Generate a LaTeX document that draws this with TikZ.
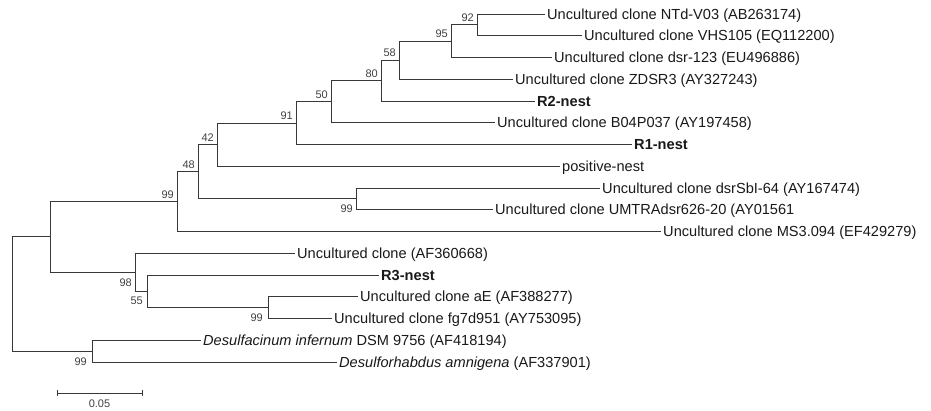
\documentclass[tikz,border=0pt]{standalone}
\usepackage{fontspec}
\setmainfont{Liberation Sans}
\begin{document}
\begin{tikzpicture}[x=1pt,y=-1pt,
  br/.style={draw=black!78, line width=0.95pt},
  leaf/.style={anchor=base west, inner xsep=2pt, inner ysep=0pt, text=black!90, font=\fontsize{14.6}{17}\selectfont},
  bup/.style={anchor=base east, inner sep=0pt, text=black!75, font=\fontsize{11}{13}\selectfont},
  bdn/.style={anchor=base east, inner sep=0pt, text=black!75, font=\fontsize{11}{13}\selectfont}
]
\useasboundingbox (0,0) rectangle (931,410);
% leaf ends
\coordinate (L0) at (545,14);
\coordinate (L1) at (582,35.75);
\coordinate (L2) at (552,57.5);
\coordinate (L3) at (513,79.25);
\coordinate (L4) at (535,101);
\coordinate (L5) at (495,122.75);
\coordinate (L6) at (632,144.5);
\coordinate (L7) at (560,166.25);
\coordinate (L8) at (600,188);
\coordinate (L9) at (493,209.75);
\coordinate (L10) at (661,231.5);
\coordinate (L11) at (295,253.25);
\coordinate (L12) at (379,275);
\coordinate (L13) at (358,296.75);
\coordinate (L14) at (332,318.5);
\coordinate (L15) at (201,340.25);
\coordinate (L16) at (337,362);
% internal nodes
\coordinate (n92) at (477,24.875);
\coordinate (n95) at (451,41.19);
\coordinate (n58) at (399,60.22);
\coordinate (n80) at (381,80.61);
\coordinate (n50) at (331,101.68);
\coordinate (n91) at (296,123.09);
\coordinate (n42) at (217,144.67);
\coordinate (ndsr) at (356,198.875);
\coordinate (n48) at (198,171.77);
\coordinate (n99) at (177,201.64);
\coordinate (nfg) at (268,307.625);
\coordinate (n55) at (147,291.31);
\coordinate (n98) at (135,272.28);
\coordinate (nA) at (50,236.96);
\coordinate (ndes) at (92,351.125);
\coordinate (root) at (12,294.04);
% branches
\draw[br] (n92) |- (L0); \draw[br] (n92) |- (L1);
\draw[br] (n95) |- (n92); \draw[br] (n95) |- (L2);
\draw[br] (n58) |- (n95); \draw[br] (n58) |- (L3);
\draw[br] (n80) |- (n58); \draw[br] (n80) |- (L4);
\draw[br] (n50) |- (n80); \draw[br] (n50) |- (L5);
\draw[br] (n91) |- (n50); \draw[br] (n91) |- (L6);
\draw[br] (n42) |- (n91); \draw[br] (n42) |- (L7);
\draw[br] (ndsr) |- (L8); \draw[br] (ndsr) |- (L9);
\draw[br] (n48) |- (n42); \draw[br] (n48) |- (ndsr);
\draw[br] (n99) |- (n48); \draw[br] (n99) |- (L10);
\draw[br] (nfg) |- (L13); \draw[br] (nfg) |- (L14);
\draw[br] (n55) |- (L12); \draw[br] (n55) |- (nfg);
\draw[br] (n98) |- (L11); \draw[br] (n98) |- (n55);
\draw[br] (nA) |- (n99); \draw[br] (nA) |- (n98);
\draw[br] (ndes) |- (L15); \draw[br] (ndes) |- (L16);
\draw[br] (root) |- (nA); \draw[br] (root) |- (ndes);
% leaf labels
\node[leaf] (t0) at ([yshift=-5.2pt]L0) {Uncultured clone NTd-V03 (AB263174)};
\node[leaf] (t1) at ([yshift=-5.2pt]L1) {Uncultured clone VHS105 (EQ112200)};
\node[leaf] (t2) at ([yshift=-5.2pt]L2) {Uncultured clone dsr-123 (EU496886)};
\node[leaf] (t3) at ([yshift=-5.2pt]L3) {Uncultured clone ZDSR3 (AY327243)};
\node[leaf] (t4) at ([yshift=-5.2pt]L4) {\bfseries R2-nest};
\node[leaf] (t5) at ([yshift=-5.2pt]L5) {Uncultured clone B04P037 (AY197458)};
\node[leaf] (t6) at ([yshift=-5.2pt]L6) {\bfseries R1-nest};
\node[leaf] (t7) at ([yshift=-5.2pt]L7) {positive-nest};
\node[leaf] (t8) at ([yshift=-5.2pt]L8) {Uncultured clone dsrSbI-64 (AY167474)};
\node[leaf] (t9) at ([yshift=-5.2pt]L9) {Uncultured clone UMTRAdsr626-20 (AY01561};
\node[leaf] (t10) at ([yshift=-5.2pt]L10) {Uncultured clone MS3.094 (EF429279)};
\node[leaf] (t11) at ([yshift=-5.2pt]L11) {Uncultured clone (AF360668)};
\node[leaf] (t12) at ([yshift=-5.2pt]L12) {\bfseries R3-nest};
\node[leaf] (t13) at ([yshift=-5.2pt]L13) {Uncultured clone aE (AF388277)};
\node[leaf] (t14) at ([yshift=-5.2pt]L14) {Uncultured clone fg7d951 (AY753095)};
\node[leaf] (t15) at ([yshift=-5.2pt]L15) {\itshape Desulfacinum infernum\upshape\ DSM 9756 (AF418194)};
\node[leaf] (t16) at ([yshift=-5.2pt]L16) {\itshape Desulforhabdus amnigena\upshape\ (AF337901)};
% bootstrap values
\node[bup] (b92) at ([xshift=-3pt,yshift=3.5pt]n92) {92};
\node[bup] (b95) at ([xshift=-3pt,yshift=3.5pt]n95) {95};
\node[bup] (b58) at ([xshift=-3pt,yshift=3.5pt]n58) {58};
\node[bup] (b80) at ([xshift=-3pt,yshift=3.5pt]n80) {80};
\node[bup] (b50) at ([xshift=-3pt,yshift=3.5pt]n50) {50};
\node[bup] (b91) at ([xshift=-3pt,yshift=3.5pt]n91) {91};
\node[bup] (b42) at ([xshift=-3pt,yshift=3.5pt]n42) {42};
\node[bup] (b48) at ([xshift=-3pt,yshift=3.5pt]n48) {48};
\node[bup] (b99) at ([xshift=-3pt,yshift=3.5pt]n99) {99};
\node[bdn] (bdsr) at (353,212.5) {99};
\node[bdn] (b98) at (132,286) {98};
\node[bdn] (b55) at (143,304.5) {55};
\node[bdn] (bfg) at (263,321.5) {99};
\node[bdn] (bdes) at (87,365.5) {99};
% scale bar
\coordinate (sb1) at (57,393);
\coordinate (sb2) at (142,393);
\draw[br] (sb1) -- (sb2);
\draw[br] ([yshift=3pt]sb1) -- ([yshift=-3pt]sb1);
\draw[br] ([yshift=3pt]sb2) -- ([yshift=-3pt]sb2);
\node[anchor=base, inner sep=0pt, text=black!75, font=\fontsize{11}{13}\selectfont] (sbl) at (99.5,407) {0.05};
\end{tikzpicture}
\end{document}
